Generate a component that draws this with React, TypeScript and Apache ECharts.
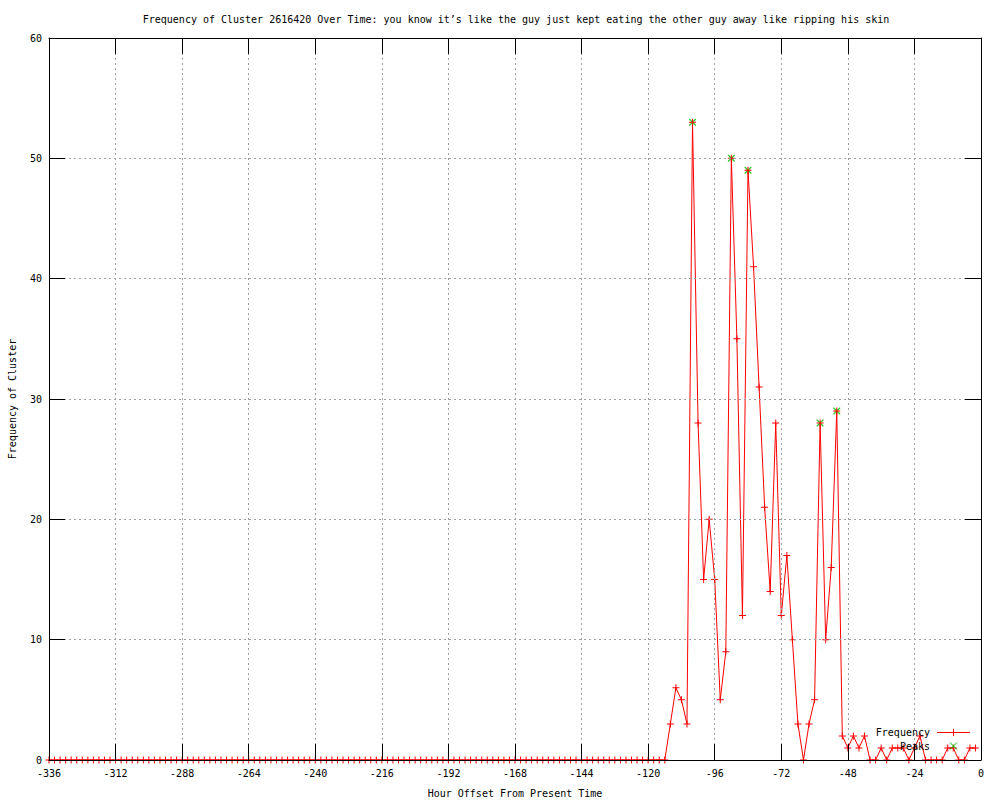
import React, { useEffect, useRef } from "react";
import * as echarts from "echarts";

const TITLE =
  "Frequency of Cluster 2616420 Over Time: you know it’s like the guy just kept eating the other guy away like ripping his skin";
const X_NAME = "Hour Offset From Present Time";
const Y_NAME = "Frequency of Cluster";

const HOURS = [
  -336, -334, -332, -330, -328, -326, -324, -322, -320, -318, -316, -314, -312, -310, -308, -306,
  -304, -302, -300, -298, -296, -294, -292, -290, -288, -286, -284, -282, -280, -278, -276, -274,
  -272, -270, -268, -266, -264, -262, -260, -258, -256, -254, -252, -250, -248, -246, -244, -242,
  -240, -238, -236, -234, -232, -230, -228, -226, -224, -222, -220, -218, -216, -214, -212, -210,
  -208, -206, -204, -202, -200, -198, -196, -194, -192, -190, -188, -186, -184, -182, -180, -178,
  -176, -174, -172, -170, -168, -166, -164, -162, -160, -158, -156, -154, -152, -150, -148, -146,
  -144, -142, -140, -138, -136, -134, -132, -130, -128, -126, -124, -122, -120, -118, -116, -114,
  -112, -110, -108, -106, -104, -102, -100, -98, -96, -94, -92, -90, -88, -86, -84, -82,
  -80, -78, -76, -74, -72, -70, -68, -66, -64, -62, -60, -58, -56, -54, -52, -50,
  -48, -46, -44, -42, -40, -38, -36, -34, -32, -30, -28, -26, -24, -22, -20, -18,
  -16, -14, -12, -10, -8, -6, -4, -2,
];

const FREQUENCY = [
  0, 0, 0, 0, 0, 0, 0, 0, 0, 0, 0, 0, 0, 0, 0, 0,
  0, 0, 0, 0, 0, 0, 0, 0, 0, 0, 0, 0, 0, 0, 0, 0,
  0, 0, 0, 0, 0, 0, 0, 0, 0, 0, 0, 0, 0, 0, 0, 0,
  0, 0, 0, 0, 0, 0, 0, 0, 0, 0, 0, 0, 0, 0, 0, 0,
  0, 0, 0, 0, 0, 0, 0, 0, 0, 0, 0, 0, 0, 0, 0, 0,
  0, 0, 0, 0, 0, 0, 0, 0, 0, 0, 0, 0, 0, 0, 0, 0,
  0, 0, 0, 0, 0, 0, 0, 0, 0, 0, 0, 0, 0, 0, 0, 0,
  3, 6, 5, 3, 53, 28, 15, 20, 15, 5, 9, 50, 35, 12, 49, 41,
  31, 21, 14, 28, 12, 17, 10, 3, 0, 3, 5, 28, 10, 16, 29, 2,
  1, 2, 1, 2, 0, 0, 1, 0, 1, 1, 1, 0, 1, 2, 0, 0,
  0, 0, 1, 1, 0, 0, 1, 1,
];

const PEAK_HOURS = [-104, -90, -84, -58, -52];
const PEAK_VALUES = [53, 50, 49, 28, 29];

const X_MIN = -336;
const X_MAX = 0;
const X_STEP = 24;
const Y_MIN = 0;
const Y_MAX = 60;
const Y_STEP = 10;

const FONT = "'DejaVu Sans Mono', 'Liberation Mono', monospace";
const RED = "#ff0000";
const GREEN = "#00c000";
const GRID_GRAY = "#a0a0a0";

const PLUS = "path://M3,0h1v7h-1z M0,3h7v1h-7z";
const CROSS = "path://M0,0L1,0L7,6L7,7L6,7L0,1Z M6,0L7,0L7,1L1,7L0,7L0,6Z";

export default function App() {
  const ref = useRef<HTMLDivElement>(null);

  useEffect(() => {
    if (!ref.current) return;
    const chart = echarts.init(ref.current, null, { renderer: "svg" });

    const freqData = HOURS.map((h, i) => [h, FREQUENCY[i]]);
    const peakData = PEAK_HOURS.map((h, i) => [h, PEAK_VALUES[i]]);

    const axisCommon = {
      z: 3,
      axisLine: { show: true, onZero: false, lineStyle: { color: "#000", width: 1 } },
      axisTick: { show: true, inside: true, length: 16, lineStyle: { color: "#000", width: 1 } },
    };

    chart.setOption({
      animation: false,
      backgroundColor: "#ffffff",
      title: {
        text: TITLE,
        left: 511,
        top: 9,
        textAlign: "center",
        textStyle: { fontFamily: FONT, fontSize: 10, fontWeight: "normal", color: "#000" },
      },
      grid: {
        left: 49,
        right: 19,
        top: 38,
        bottom: 40,
        containLabel: false,
        outerBoundsMode: "none",
      },
      xAxis: [
        {
          ...axisCommon,
          type: "value",
          position: "bottom",
          min: X_MIN,
          max: X_MAX,
          interval: X_STEP,
          name: X_NAME,
          nameLocation: "middle",
          nameGap: 28,
          nameTextStyle: { fontFamily: FONT, fontSize: 10, color: "#000" },
          axisLabel: { fontFamily: FONT, fontSize: 10, color: "#000", margin: 8 },
          splitLine: { show: true, lineStyle: { color: GRID_GRAY, type: [2, 3], width: 1 } },
        },
        {
          ...axisCommon,
          type: "value",
          position: "top",
          min: X_MIN,
          max: X_MAX,
          interval: X_STEP,
          axisLabel: { show: false },
          splitLine: { show: false },
        },
      ],
      yAxis: [
        {
          ...axisCommon,
          type: "value",
          position: "left",
          min: Y_MIN,
          max: Y_MAX,
          interval: Y_STEP,
          name: Y_NAME,
          nameLocation: "middle",
          nameGap: 32,
          nameTextStyle: { fontFamily: FONT, fontSize: 10, color: "#000" },
          axisLabel: { fontFamily: FONT, fontSize: 10, color: "#000", margin: 7 },
          splitLine: { show: true, lineStyle: { color: GRID_GRAY, type: [2, 3], width: 1 } },
        },
        {
          ...axisCommon,
          type: "value",
          position: "right",
          min: Y_MIN,
          max: Y_MAX,
          interval: Y_STEP,
          axisLabel: { show: false },
          splitLine: { show: false },
        },
      ],
      series: [
        {
          name: "Peaks",
          type: "scatter",
          xAxisIndex: 0,
          yAxisIndex: 0,
          data: peakData,
          symbol: CROSS,
          symbolSize: 7,
          itemStyle: { color: GREEN, borderWidth: 0 },
          z: 2,
          clip: false,
        },
        {
          name: "Frequency",
          type: "line",
          xAxisIndex: 0,
          yAxisIndex: 0,
          data: freqData,
          symbol: PLUS,
          symbolSize: 7,
          showSymbol: true,
          showAllSymbol: true,
          lineStyle: { color: RED, width: 1 },
          itemStyle: { color: RED, borderWidth: 0 },
          z: 2,
          clip: false,
        },
      ],
      graphic: [
        {
          type: "text",
          z: 100,
          x: 930,
          y: 732,
          style: {
            text: "Frequency",
            font: `10px ${FONT}`,
            fill: "#000",
            align: "right",
            verticalAlign: "middle",
          },
        },
        {
          type: "line",
          z: 100,
          shape: { x1: 937, y1: 732.5, x2: 970, y2: 732.5 },
          style: { stroke: RED, lineWidth: 1 },
        },
        {
          type: "line",
          z: 100,
          shape: { x1: 953.5, y1: 729, x2: 953.5, y2: 736 },
          style: { stroke: RED, lineWidth: 1 },
        },
        {
          type: "text",
          z: 100,
          x: 930,
          y: 746,
          style: {
            text: "Peaks",
            font: `10px ${FONT}`,
            fill: "#000",
            align: "right",
            verticalAlign: "middle",
          },
        },
        {
          type: "line",
          z: 100,
          shape: { x1: 950, y1: 742.5, x2: 957, y2: 749.5 },
          style: { stroke: GREEN, lineWidth: 1 },
        },
        {
          type: "line",
          z: 100,
          shape: { x1: 957, y1: 742.5, x2: 950, y2: 749.5 },
          style: { stroke: GREEN, lineWidth: 1 },
        },
      ],
    });

    return () => chart.dispose();
  }, []);

  return (
    <div
      ref={ref}
      style={{ position: "absolute", left: 0, top: 0, width: 1000, height: 800, background: "#fff" }}
    />
  );
}
